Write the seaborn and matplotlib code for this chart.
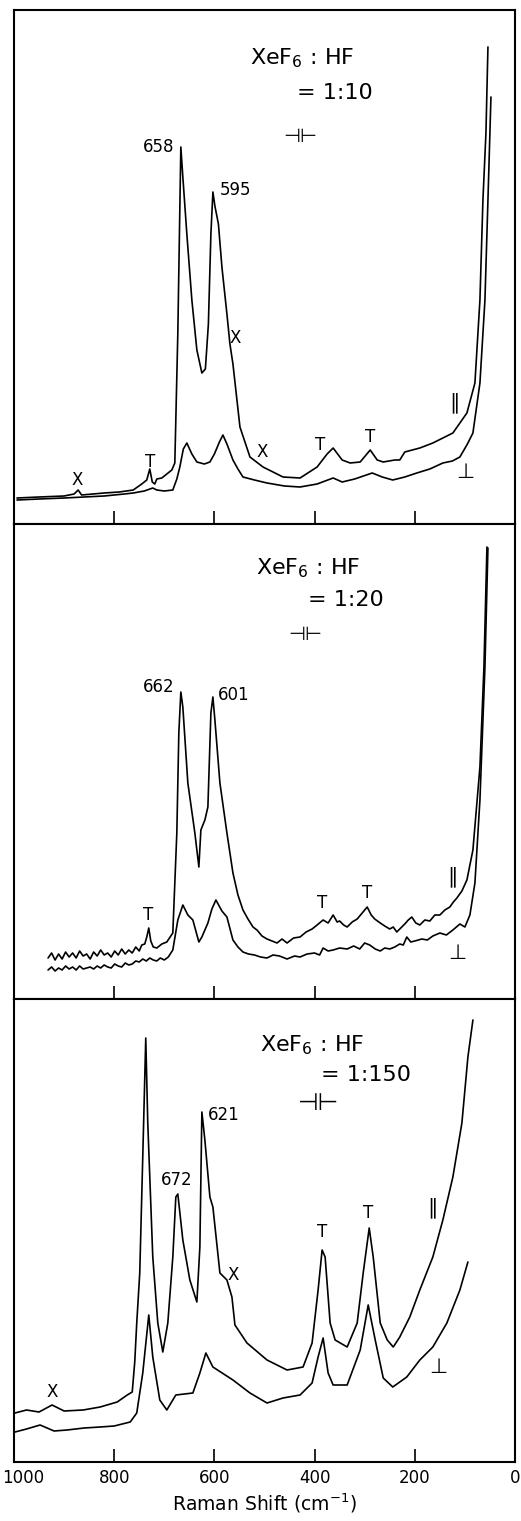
import matplotlib
matplotlib.use("Agg")
import matplotlib.pyplot as plt
import pandas as pd
import seaborn as sns

sns.set_style("white")
plt.rcParams["font.family"] = ["DejaVu Sans"]
plt.rcParams["mathtext.fontset"] = "dejavusans"
plt.rcParams["text.color"] = "black"
plt.rcParams["axes.labelcolor"] = "black"
plt.rcParams["xtick.color"] = "black"

# Panel 1: XeF6 : HF = 1:10  (wavenumber cm-1, intensity arb.)
p1_par_w = [994, 950, 900, 880, 872, 865, 820, 790, 762, 745, 735, 729, 724, 719, 715, 705,
            695, 685, 679, 673, 667, 663, 655, 645, 635, 625, 618, 612, 607, 603, 599, 592,
            585, 575, 569, 563, 549, 529, 503, 463, 429, 395, 375, 363, 345, 329, 309, 289,
            275, 263, 240, 230, 220, 190, 164, 124, 96, 80, 70, 64, 58, 54]
p1_par_i = [26, 27, 28, 30, 34, 29, 31, 32, 34, 40, 44, 55, 42, 40, 45, 46,
            50, 54, 61, 191, 377, 347, 290, 224, 174, 151, 155, 200, 290, 332, 318, 300,
            257, 210, 180, 160, 97, 67, 57, 47, 46, 57, 70, 76, 64, 61, 62, 74,
            64, 62, 64, 64, 72, 76, 81, 91, 111, 141, 224, 324, 391, 477]
p1_perp_w = [994, 950, 900, 860, 820, 780, 762, 740, 723, 715, 700, 683, 675, 669, 662, 655,
             645, 635, 620, 609, 600, 590, 583, 575, 563, 553, 543, 520, 495, 460, 429, 395,
             363, 345, 320, 285, 265, 244, 220, 196, 170, 144, 125, 110, 95, 84, 70, 60, 54, 48]
p1_perp_i = [24, 25, 26, 27, 28, 30, 31, 33, 36, 34, 33, 34, 45, 57, 75, 81,
             70, 62, 60, 62, 70, 82, 89, 80, 64, 55, 47, 44, 41, 38, 37, 40,
             46, 42, 45, 51, 47, 44, 47, 51, 55, 61, 63, 67, 80, 91, 141, 224, 324, 427]

# Panel 2: XeF6 : HF = 1:20
p2_par_w = [932, 925, 918, 911, 904, 897, 890, 883, 876, 869, 862, 855, 848, 841, 834, 827,
            820, 813, 806, 799, 792, 785, 778, 771, 764, 757, 750, 745, 739, 735, 731, 727,
            722, 715, 705, 695, 683, 675, 671, 667, 663, 653, 639, 631, 627, 619, 613, 607,
            603, 599, 589, 575, 563, 553, 543, 533, 523, 515, 505, 495, 485, 475, 465, 455,
            442, 429, 417, 405, 395, 383, 373, 363, 355, 350, 342, 335, 325, 315, 305, 295,
            287, 280, 269, 260, 250, 243, 236, 228, 220, 213, 206, 198, 190, 180, 170, 160,
            150, 140, 130, 123, 116, 106, 96, 84, 70, 62, 56]
p2_par_i = [41, 46, 39, 45, 40, 47, 42, 46, 41, 48, 43, 45, 40, 47, 43, 49,
            44, 46, 42, 48, 44, 50, 45, 49, 46, 52, 48, 54, 55, 62, 71, 58,
            52, 51, 55, 57, 66, 166, 266, 307, 292, 216, 166, 132, 169, 179, 192, 286,
            302, 279, 216, 166, 126, 104, 89, 80, 72, 69, 63, 60, 58, 56, 60, 56,
            61, 62, 67, 70, 74, 79, 76, 84, 77, 78, 74, 72, 77, 80, 86, 92,
            84, 80, 76, 73, 70, 72, 67, 71, 75, 79, 82, 76, 74, 79, 78, 84,
            84, 89, 92, 97, 101, 108, 119, 149, 232, 332, 452]
p2_perp_w = [932, 925, 918, 911, 904, 897, 890, 883, 876, 869, 862, 855, 848, 841, 834, 827,
             820, 813, 806, 799, 792, 785, 778, 771, 764, 757, 750, 743, 736, 729, 722, 715,
             708, 700, 692, 683, 673, 663, 653, 643, 631, 625, 613, 605, 597, 585, 575, 563,
             553, 543, 532, 520, 508, 495, 483, 470, 455, 440, 429, 415, 400, 390, 383, 373,
             363, 350, 335, 322, 310, 300, 290, 279, 269, 260, 250, 240, 230, 223, 216, 208,
             200, 186, 175, 164, 150, 137, 124, 110, 100, 90, 80, 70, 60, 54]
p2_perp_i = [29, 32, 28, 31, 29, 33, 30, 32, 29, 33, 30, 31, 32, 30, 33, 31,
             34, 32, 31, 35, 33, 32, 36, 34, 35, 38, 37, 40, 38, 41, 39, 38,
             41, 39, 42, 49, 79, 94, 84, 79, 57, 62, 76, 90, 99, 88, 82, 59,
             52, 47, 45, 44, 42, 41, 44, 43, 40, 43, 42, 45, 46, 44, 51, 48,
             49, 51, 50, 53, 50, 56, 54, 50, 48, 51, 50, 52, 55, 54, 62, 57,
             58, 60, 59, 63, 66, 64, 69, 75, 72, 84, 116, 199, 332, 451]

# Panel 3: XeF6 : HF = 1:150
p3_par_w = [998, 975, 950, 924, 900, 862, 828, 794, 774, 764, 759, 755, 749, 743, 737, 733,
            723, 713, 703, 693, 683, 677, 673, 663, 649, 635, 629, 625, 619, 609, 603, 589,
            575, 565, 559, 535, 495, 455, 423, 405, 393, 385, 379, 369, 359, 335, 315, 303,
            291, 283, 269, 255, 243, 230, 210, 190, 164, 144, 124, 106, 94, 84]
p3_par_i = [49, 52, 50, 57, 51, 52, 55, 60, 67, 70, 100, 139, 189, 305, 424, 339,
            205, 139, 110, 139, 205, 265, 268, 222, 182, 160, 215, 350, 322, 265, 255, 189,
            182, 165, 137, 119, 102, 92, 95, 119, 172, 212, 205, 139, 122, 115, 139, 189,
            234, 205, 139, 122, 115, 125, 145, 172, 205, 242, 285, 339, 405, 442]
p3_perp_w = [998, 975, 948, 920, 894, 860, 828, 800, 768, 755, 743, 731, 723, 709, 695, 677,
             660, 643, 629, 617, 603, 563, 529, 495, 463, 429, 405, 393, 383, 373, 363, 335,
             309, 293, 279, 263, 244, 216, 190, 164, 136, 110, 94]
p3_perp_i = [30, 33, 37, 31, 32, 34, 35, 36, 40, 49, 89, 147, 105, 62, 52, 67,
             68, 69, 89, 109, 95, 82, 69, 59, 64, 67, 79, 105, 124, 89, 77, 77,
             112, 157, 122, 84, 75, 85, 102, 115, 139, 172, 200]

ratios = ["1:10", "1:20", "1:150"]
tick_vals = [1000, 800, 600, 400, 200, 0]
tick_labels = ["1000", "800", "600", "400", "200", "0"]

W, H = 521, 1521
fig = plt.figure(figsize=(W / 100, H / 100), dpi=100)
left, width = 14 / W, 501 / W
ax1 = fig.add_axes([left, 997 / H, width, 514 / H])
ax2 = fig.add_axes([left, 522 / H, width, 475 / H])
ax3 = fig.add_axes([left, 59 / H, width, 463 / H])


def draw_panel(ax, par_w, par_i, perp_w, perp_i, top):
    df = pd.DataFrame({
        "w": par_w + perp_w,
        "i": par_i + perp_i,
        "pol": ["par"] * len(par_w) + ["perp"] * len(perp_w),
    })
    sns.lineplot(data=df, x="w", y="i", units="pol", estimator=None, sort=False,
                 color="black", lw=1.2, ax=ax, legend=False)
    ax.set_xlim(1000, 0)
    ax.set_ylim(0, top)
    ax.set_yticks([])
    ax.set_xticks(tick_vals[1:-1])
    ax.tick_params(axis="x", direction="in", length=9.5, width=1.2,
                   labelbottom=False, bottom=True, color="black")
    ax.set_xlabel("")
    ax.set_ylabel("")
    for s in ax.spines.values():
        s.set_linewidth(1.5)
        s.set_color("black")


def header(ax, xw, yi, ratio, xr, yr, xs, ys, slit_size=14):
    ax.text(xw, yi, "XeF$_6$ : HF", fontsize=16, ha="center", va="center")
    ax.text(xr, yr, "= " + ratio, fontsize=16, ha="left", va="center")
    ax.text(xs, ys, "\u22a3\u22a2", fontsize=slit_size, ha="center", va="center")


def marks(ax, items, size=12):
    for txt, xw, yi in items:
        ax.text(xw, yi, txt, fontsize=size, ha="center", va="center")


draw_panel(ax1, p1_par_w, p1_par_i, p1_perp_w, p1_perp_i, 514)
header(ax1, 425, 466, ratios[0], 435, 431, 429, 387)
ax1.text(679, 377, "658", fontsize=12, ha="right", va="center")
ax1.text(589, 334, "595", fontsize=12, ha="left", va="center")
marks(ax1, [("X", 874, 44), ("X", 559, 186), ("X", 505, 72),
            ("T", 729, 62), ("T", 389, 79), ("T", 289, 87)])
marks(ax1, [("\u2225", 120, 121), ("\u22a5", 100, 52)], size=15)

draw_panel(ax2, p2_par_w, p2_par_i, p2_perp_w, p2_perp_i, 475)
header(ax2, 413, 431, ratios[1], 413, 399, 419, 364)
ax2.text(679, 312, "662", fontsize=12, ha="right", va="center")
ax2.text(593, 304, "601", fontsize=12, ha="left", va="center")
marks(ax2, [("T", 733, 84), ("T", 385, 96), ("T", 295, 106)])
marks(ax2, [("\u2225", 124, 122), ("\u22a5", 116, 46)], size=15)

draw_panel(ax3, p3_par_w, p3_par_i, p3_perp_w, p3_perp_i, 463)
header(ax3, 405, 417, ratios[2], 388, 387, 393, 359, slit_size=17)
ax3.text(613, 347, "621", fontsize=12, ha="left", va="center")
ax3.text(675, 282, "672", fontsize=12, ha="center", va="center")
marks(ax3, [("X", 563, 187), ("X", 924, 70), ("T", 385, 230), ("T", 293, 249)])
marks(ax3, [("\u2225", 164, 254), ("\u22a5", 154, 95)], size=15)

ax3.set_xticks(tick_vals)
ax3.set_xticklabels([""] + tick_labels[1:])
ax3.tick_params(axis="x", labelbottom=True, labelsize=12, pad=5)
# first label sits inside the figure edge, as in the original
ax3.annotate(tick_labels[0], xy=(tick_vals[0], 0), xycoords=("data", "axes fraction"),
             xytext=(6.5, -5), textcoords="offset points", ha="center", va="top",
             fontsize=12)
ax3.set_xlabel("Raman Shift (cm$^{-1}$)", fontsize=13.5, labelpad=3)

fig.savefig("out.png", dpi=100)
plt.close(fig)
